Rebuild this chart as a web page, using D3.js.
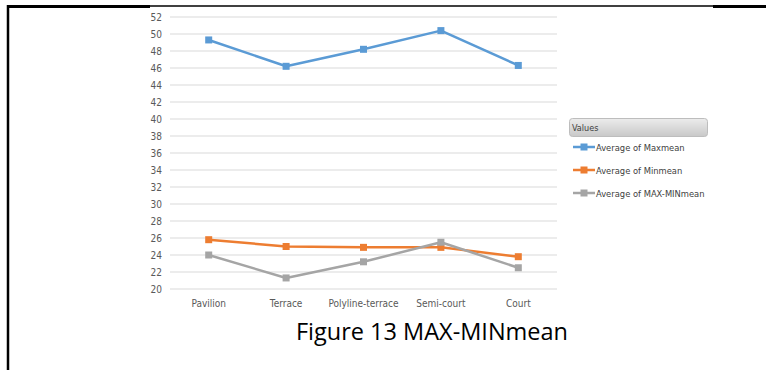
<!DOCTYPE html>
<html>
<head>
<meta charset="utf-8">
<script src="https://cdn.jsdelivr.net/npm/d3@7"></script>
<style>
  body { margin: 0; background: #fff; }
  svg { display: block; }
</style>
</head>
<body>
<svg id="chart" width="766" height="370"></svg>
<script>
// Dữ liệu
const categories = ["Pavilion", "Terrace", "Polyline-terrace", "Semi-court", "Court"];
const maxMean = [49.3, 46.2, 48.2, 50.4, 46.3];
const minMean = [25.8, 25.0, 24.9, 24.9, 23.8];
const maxMinMean = [24.0, 21.3, 23.2, 25.5, 22.5];
const yTicks = d3.range(20, 53, 2);
const seriesNames = ["Average of Maxmean", "Average of Minmean", "Average of MAX-MINmean"];
const seriesColors = ["#5b9bd5", "#ed7d31", "#a5a5a5"];

const series = [maxMean, minMean, maxMinMean].map((values, i) => ({
    name: seriesNames[i],
    color: seriesColors[i],
    values: values
}));

const svg = d3.select("#chart");
const font = "'Liberation Sans Narrow', 'DejaVu Sans Condensed', sans-serif";

// Khung trang (đường viền)
svg.append("line").attr("x1", 8).attr("x2", 8).attr("y1", 5).attr("y2", 370)
    .attr("stroke", "#000").attr("stroke-width", 2.5);
svg.append("line").attr("x1", 7).attr("x2", 150).attr("y1", 6.5).attr("y2", 6.5)
    .attr("stroke", "#000").attr("stroke-width", 3);
svg.append("line").attr("x1", 150).attr("x2", 713).attr("y1", 6).attr("y2", 6)
    .attr("stroke", "#000").attr("stroke-width", 1.5);
svg.append("line").attr("x1", 713).attr("x2", 766).attr("y1", 6.5).attr("y2", 6.5)
    .attr("stroke", "#000").attr("stroke-width", 3);

const plot = { left: 170, right: 557, top: 17, bottom: 289 };

const x = d3.scaleBand().domain(categories).range([plot.left, plot.right]);
const y = d3.scaleLinear().domain([20, 52]).range([plot.bottom, plot.top]);

// Lưới ngang
svg.append("g")
    .selectAll("line")
    .data(yTicks)
    .enter()
    .append("line")
    .attr("x1", plot.left).attr("x2", plot.right)
    .attr("y1", d => y(d)).attr("y2", d => y(d))
    .attr("stroke", "#d9d9d9").attr("stroke-width", 1);

// Trục Y
const yAxis = svg.append("g")
    .attr("transform", `translate(${plot.left}, 0)`)
    .call(d3.axisLeft(y).tickValues(yTicks).tickSize(0).tickPadding(8));
yAxis.select(".domain").remove();
yAxis.selectAll("text").attr("fill", "#595959").style("font-family", font).style("font-size", "10px");

// Trục X
const xAxis = svg.append("g")
    .attr("transform", `translate(0, ${plot.bottom})`)
    .call(d3.axisBottom(x).tickSize(0).tickPadding(11));
xAxis.select(".domain").remove();
xAxis.selectAll("text").attr("fill", "#595959").style("font-family", font).style("font-size", "10px");

// Các đường
const line = d3.line()
    .x((d, i) => x(categories[i]) + x.bandwidth() / 2)
    .y(d => y(d));

series.forEach(s => {
    svg.append("path")
        .datum(s.values)
        .attr("d", line)
        .attr("fill", "none")
        .attr("stroke", s.color)
        .attr("stroke-width", 2.5)
        .attr("stroke-linejoin", "round");

    svg.append("g")
        .selectAll("rect")
        .data(s.values)
        .enter()
        .append("rect")
        .attr("x", (d, i) => x(categories[i]) + x.bandwidth() / 2 - 3.5)
        .attr("y", d => y(d) - 3.5)
        .attr("width", 7)
        .attr("height", 7)
        .attr("fill", s.color);
});

// Chú giải
const defs = svg.append("defs");
const grad = defs.append("linearGradient").attr("id", "legendGrad")
    .attr("x1", 0).attr("x2", 0).attr("y1", 0).attr("y2", 1);
grad.append("stop").attr("offset", "0%").attr("stop-color", "#ececec");
grad.append("stop").attr("offset", "100%").attr("stop-color", "#c8c8c8");

svg.append("rect")
    .attr("x", 569.5).attr("y", 118.5).attr("width", 138).attr("height", 18)
    .attr("rx", 3).attr("ry", 3)
    .attr("fill", "url(#legendGrad)")
    .attr("stroke", "#bdbdbd");
svg.append("text")
    .attr("x", 572).attr("y", 131)
    .attr("fill", "#404040")
    .style("font-family", font).style("font-size", "9px")
    .text("Values");

const legend = svg.append("g")
    .selectAll("g")
    .data(series)
    .enter()
    .append("g")
    .attr("transform", (d, i) => `translate(573, ${147 + i * 23})`);

legend.append("line")
    .attr("x1", 0).attr("x2", 22).attr("y1", 0).attr("y2", 0)
    .attr("stroke", d => d.color).attr("stroke-width", 2.5);
legend.append("rect")
    .attr("x", 7.5).attr("y", -3.5).attr("width", 7).attr("height", 7)
    .attr("fill", d => d.color);
legend.append("text")
    .attr("x", 23).attr("y", 3.5)
    .attr("fill", "#404040")
    .style("font-family", font).style("font-size", "9.3px")
    .text(d => d.name);

// Chú thích hình
svg.append("text")
    .attr("x", 432).attr("y", 340)
    .attr("text-anchor", "middle")
    .attr("fill", "#000")
    .style("font-family", "'Open Sans', 'Liberation Sans', sans-serif")
    .style("font-size", "23.5px")
    .text("Figure 13 MAX-MINmean");
</script>
</body>
</html>
